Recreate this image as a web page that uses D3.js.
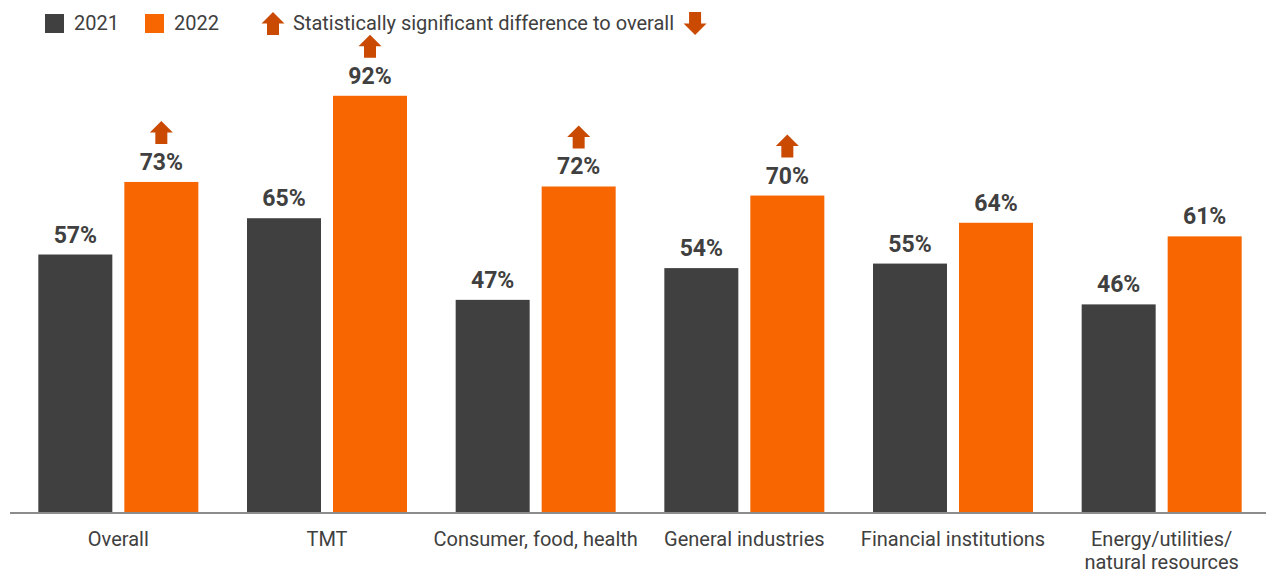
<!DOCTYPE html>
<html>
<head>
<meta charset="utf-8">
<script src="https://cdn.jsdelivr.net/npm/d3@7"></script>
<style>
  html, body { margin: 0; padding: 0; background: #fff; }
  svg { display: block; font-family: Roboto, "Noto Sans", sans-serif; }
</style>
</head>
<body>
<svg id="chart" width="1266" height="573"></svg>
<script>
// Share of respondents by sector, 2021 vs 2022
const categories = ["Overall", "TMT", "Consumer, food, health", "General industries", "Financial institutions", "Energy/utilities/\nnatural resources"];
const values2021 = [57, 65, 47, 54, 55, 46];
const values2022 = [73, 92, 72, 70, 64, 61];
// 2022 bars flagged as statistically significant vs overall (1 = up, -1 = down, 0 = none)
const significance2022 = [1, 1, 1, 1, 0, 0];
const seriesNames = ["2021", "2022"];
const legendNote = "Statistically significant difference to overall";

const colors = { "2021": "#404040", "2022": "#f76600" };
const arrowColor = "#c94a00";
const textColor = "#404040";

const svg = d3.select("#chart");
const baseY = 513;
const pairWidth = 160;

const x0 = d3.scaleBand().domain(categories).range([14, 1266]).paddingInner(0).paddingOuter(0);
const x1 = d3.scaleBand().domain(seriesNames).range([0, pairWidth]).paddingInner(12 / 86);
const y = d3.scaleLinear().domain([0, 100]).range([baseY, 59.5]);

const rows = categories.map((c, i) => ({
  cat: c,
  vals: [
    { s: "2021", v: values2021[i], sig: 0 },
    { s: "2022", v: values2022[i], sig: significance2022[i] }
  ]
}));

// block arrow path centred on 0, pointing up, height 23
function arrowPath(dir) {
  const p = [[0, -11.5], [11.5, 0], [6, 0], [6, 11.5], [-6, 11.5], [-6, 0], [-11.5, 0]];
  return "M" + p.map(([a, b]) => a + "," + (b * dir)).join("L") + "Z";
}

const groups = svg.selectAll("g.group").data(rows).join("g")
  .attr("class", "group")
  .attr("transform", d => `translate(${x0(d.cat) + (x0.bandwidth() - pairWidth) / 2},0)`);

groups.selectAll("rect").data(d => d.vals).join("rect")
  .attr("x", d => x1(d.s))
  .attr("width", x1.bandwidth())
  .attr("y", d => y(d.v))
  .attr("height", d => baseY - y(d.v))
  .attr("fill", d => colors[d.s]);

groups.selectAll("text.val").data(d => d.vals).join("text")
  .attr("class", "val")
  .attr("x", d => x1(d.s) + x1.bandwidth() / 2)
  .attr("y", d => y(d.v) - 12)
  .attr("text-anchor", "middle")
  .attr("font-size", 23)
  .attr("font-weight", 700)
  .attr("fill", textColor)
  .text(d => d.v + "%");

groups.selectAll("path.sig").data(d => d.vals.filter(v => v.sig !== 0)).join("path")
  .attr("class", "sig")
  .attr("transform", d => `translate(${x1(d.s) + x1.bandwidth() / 2},${y(d.v) - 49.5})`)
  .attr("d", d => arrowPath(d.sig))
  .attr("fill", arrowColor);

// baseline axis
const xAxis = d3.axisBottom(x0).tickSize(0).tickFormat("");
const axisG = svg.append("g").attr("transform", `translate(0,${baseY})`).call(xAxis);
axisG.select(".domain").attr("stroke", "#8c8c8c").attr("stroke-width", 2)
  .attr("d", "M10,0H1266");

// category labels (multi-line where needed)
svg.append("g").selectAll("text").data(categories).join("text")
  .attr("x", d => x0(d) + x0.bandwidth() / 2)
  .attr("y", 546)
  .attr("text-anchor", "middle")
  .attr("font-size", 20)
  .attr("fill", textColor)
  .each(function (d) {
    const t = d3.select(this);
    d.split("\n").forEach((line, i) => {
      t.append("tspan").attr("x", x0(d) + x0.bandwidth() / 2).attr("dy", i === 0 ? 0 : 23).text(line);
    });
  });

// legend
const legend = svg.append("g");
const legendItems = [{ name: "2021", x: 45 }, { name: "2022", x: 145 }];
legendItems.forEach(it => {
  legend.append("rect").attr("x", it.x).attr("y", 14).attr("width", 19).attr("height", 19).attr("fill", colors[it.name]);
  legend.append("text").attr("x", it.x + 29).attr("y", 30).attr("font-size", 20).attr("fill", textColor).text(it.name);
});
legend.append("path").attr("transform", "translate(273,23.5)").attr("d", arrowPath(1)).attr("fill", arrowColor);
const note = legend.append("text").attr("x", 293).attr("y", 30).attr("font-size", 20).attr("fill", textColor).text(legendNote);
const noteEnd = 293 + note.node().getComputedTextLength();
legend.append("path").attr("transform", `translate(${noteEnd + 21},23.5)`).attr("d", arrowPath(-1)).attr("fill", arrowColor);
</script>
</body>
</html>
